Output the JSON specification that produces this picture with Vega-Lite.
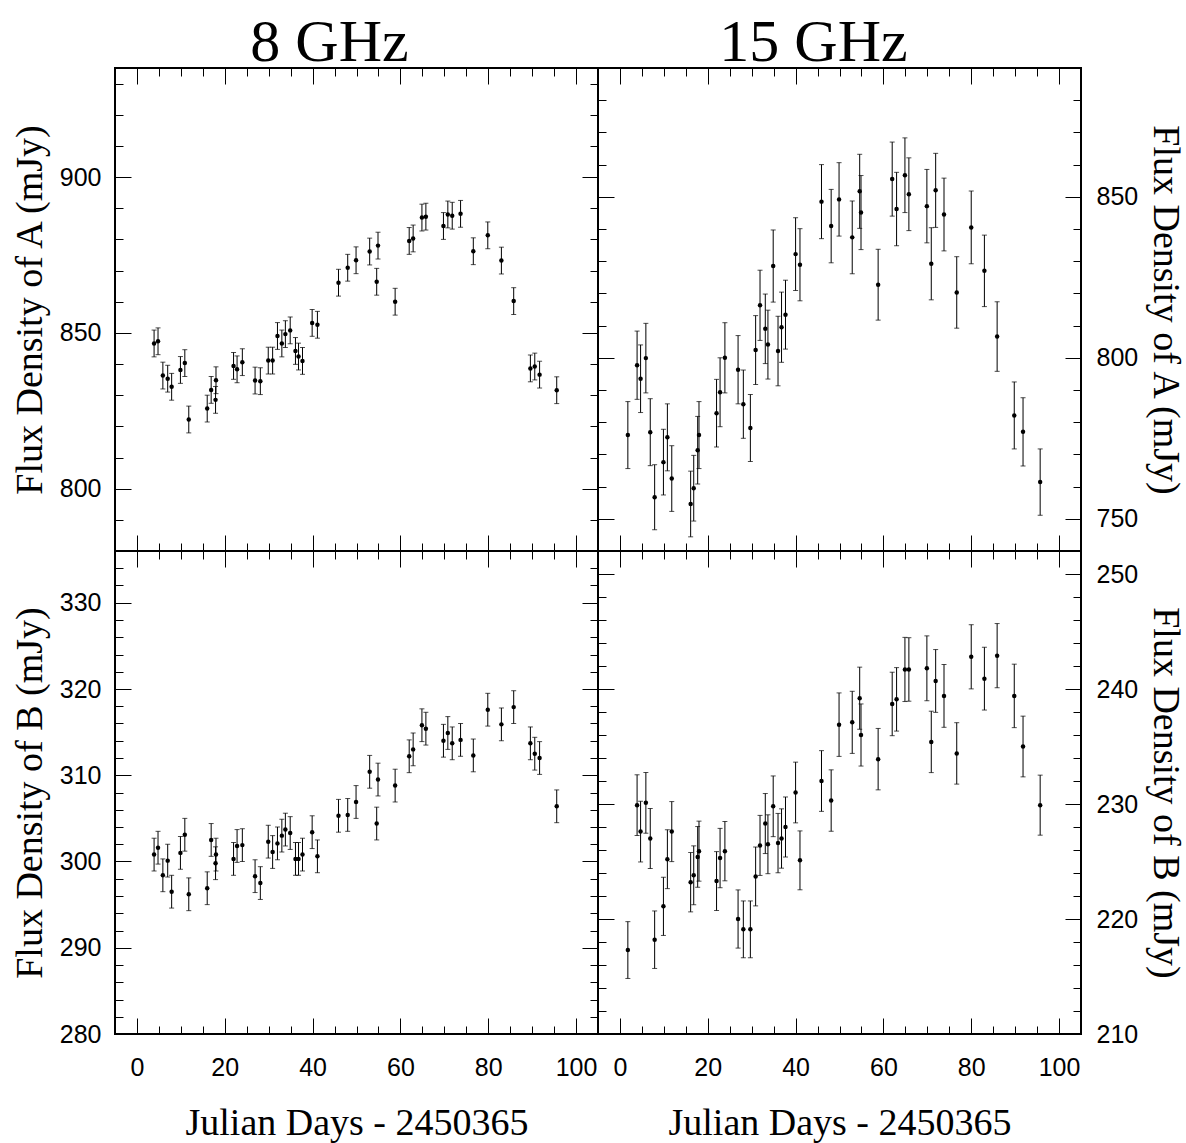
{
  "$schema": "https://vega.github.io/schema/vega-lite/v6.json",
  "background": "white",
  "padding": {"left": 10, "top": 11, "right": 5, "bottom": 0},
  "datasets": {
    "g8": [
      {"d": 3.9, "A": 846.6, "eA": 4.3, "B": 300.8, "eB": 1.9},
      {"d": 4.8, "A": 847.3, "eA": 4.3, "B": 301.6, "eB": 1.9},
      {"d": 5.9, "A": 836.3, "eA": 4.3, "B": 298.4, "eB": 1.9},
      {"d": 7.0, "A": 835.3, "eA": 4.3, "B": 300.1, "eB": 1.9},
      {"d": 7.9, "A": 832.7, "eA": 4.3, "B": 296.5, "eB": 1.9},
      {"d": 9.9, "A": 838.1, "eA": 4.3, "B": 301.0, "eB": 1.9},
      {"d": 10.9, "A": 840.3, "eA": 4.3, "B": 303.1, "eB": 1.9},
      {"d": 11.8, "A": 822.2, "eA": 4.3, "B": 296.2, "eB": 1.9},
      {"d": 16.0, "A": 825.7, "eA": 4.3, "B": 296.9, "eB": 1.9},
      {"d": 16.9, "A": 831.7, "eA": 4.3, "B": 302.5, "eB": 1.9},
      {"d": 17.9, "A": 828.5, "eA": 4.3, "B": 299.8, "eB": 1.9},
      {"d": 18.0, "A": 834.8, "eA": 4.3, "B": 300.8, "eB": 1.9},
      {"d": 22.0, "A": 839.4, "eA": 4.3, "B": 300.3, "eB": 1.9},
      {"d": 22.8, "A": 838.3, "eA": 4.3, "B": 301.8, "eB": 1.9},
      {"d": 24.0, "A": 840.6, "eA": 4.3, "B": 301.9, "eB": 1.9},
      {"d": 26.9, "A": 834.7, "eA": 4.3, "B": 298.3, "eB": 1.9},
      {"d": 28.1, "A": 834.5, "eA": 4.3, "B": 297.5, "eB": 1.9},
      {"d": 29.9, "A": 841.1, "eA": 4.3, "B": 302.3, "eB": 1.9},
      {"d": 30.9, "A": 841.1, "eA": 4.3, "B": 301.1, "eB": 1.9},
      {"d": 32.0, "A": 849.0, "eA": 4.3, "B": 302.1, "eB": 1.9},
      {"d": 33.0, "A": 846.6, "eA": 4.3, "B": 303.0, "eB": 1.9},
      {"d": 33.8, "A": 849.6, "eA": 4.3, "B": 303.7, "eB": 1.9},
      {"d": 34.9, "A": 850.8, "eA": 4.3, "B": 303.3, "eB": 1.9},
      {"d": 36.1, "A": 844.2, "eA": 4.3, "B": 300.3, "eB": 1.9},
      {"d": 36.8, "A": 842.4, "eA": 4.3, "B": 300.3, "eB": 1.9},
      {"d": 37.7, "A": 841.0, "eA": 4.3, "B": 300.8, "eB": 1.9},
      {"d": 39.9, "A": 853.2, "eA": 4.3, "B": 303.4, "eB": 1.9},
      {"d": 41.1, "A": 852.6, "eA": 4.3, "B": 300.6, "eB": 1.9},
      {"d": 45.9, "A": 866.1, "eA": 4.3, "B": 305.3, "eB": 1.9},
      {"d": 48.0, "A": 870.9, "eA": 4.3, "B": 305.4, "eB": 1.9},
      {"d": 49.9, "A": 873.3, "eA": 4.3, "B": 306.9, "eB": 1.9},
      {"d": 53.0, "A": 876.1, "eA": 4.3, "B": 310.4, "eB": 1.9},
      {"d": 54.6, "A": 866.4, "eA": 4.3, "B": 304.4, "eB": 1.9},
      {"d": 54.9, "A": 878.0, "eA": 4.3, "B": 309.5, "eB": 1.9},
      {"d": 58.8, "A": 860.0, "eA": 4.3, "B": 308.8, "eB": 1.9},
      {"d": 62.0, "A": 879.5, "eA": 4.3, "B": 312.2, "eB": 1.9},
      {"d": 62.9, "A": 880.3, "eA": 4.3, "B": 313.0, "eB": 1.9},
      {"d": 64.9, "A": 887.0, "eA": 4.3, "B": 315.8, "eB": 1.9},
      {"d": 65.8, "A": 887.3, "eA": 4.3, "B": 315.4, "eB": 1.9},
      {"d": 69.8, "A": 884.3, "eA": 4.3, "B": 314.0, "eB": 1.9},
      {"d": 70.8, "A": 888.0, "eA": 4.3, "B": 314.9, "eB": 1.9},
      {"d": 71.8, "A": 887.6, "eA": 4.3, "B": 313.7, "eB": 1.9},
      {"d": 73.7, "A": 888.2, "eA": 4.3, "B": 314.1, "eB": 1.9},
      {"d": 76.6, "A": 876.2, "eA": 4.3, "B": 312.3, "eB": 1.9},
      {"d": 79.9, "A": 881.3, "eA": 4.3, "B": 317.6, "eB": 1.9},
      {"d": 83.0, "A": 873.2, "eA": 4.3, "B": 315.9, "eB": 1.9},
      {"d": 85.8, "A": 860.2, "eA": 4.3, "B": 317.9, "eB": 1.9},
      {"d": 89.6, "A": 838.6, "eA": 4.3, "B": 313.7, "eB": 1.9},
      {"d": 90.6, "A": 839.2, "eA": 4.3, "B": 312.5, "eB": 1.9},
      {"d": 91.7, "A": 836.6, "eA": 4.3, "B": 312.0, "eB": 1.9},
      {"d": 95.6, "A": 831.6, "eA": 4.3, "B": 306.4, "eB": 1.9}
    ],
    "g15": [
      {"d": 1.8, "A": 776.0, "eA": 10.4, "B": 217.3, "eB": 2.47},
      {"d": 3.9, "A": 797.7, "eA": 10.6, "B": 229.9, "eB": 2.64},
      {"d": 4.7, "A": 793.5, "eA": 10.5, "B": 227.6, "eB": 2.64},
      {"d": 5.9, "A": 799.9, "eA": 10.8, "B": 230.1, "eB": 2.64},
      {"d": 6.9, "A": 776.9, "eA": 10.4, "B": 227.0, "eB": 2.61},
      {"d": 7.9, "A": 756.7, "eA": 10.1, "B": 218.2, "eB": 2.5},
      {"d": 9.9, "A": 767.6, "eA": 10.2, "B": 221.1, "eB": 2.53},
      {"d": 10.8, "A": 775.3, "eA": 10.4, "B": 225.2, "eB": 2.56},
      {"d": 11.8, "A": 762.5, "eA": 10.2, "B": 227.6, "eB": 2.61},
      {"d": 16.1, "A": 754.6, "eA": 10.2, "B": 223.2, "eB": 2.58},
      {"d": 16.8, "A": 759.5, "eA": 10.2, "B": 223.8, "eB": 2.56},
      {"d": 17.7, "A": 771.3, "eA": 10.5, "B": 225.4, "eB": 2.64},
      {"d": 18.0, "A": 776.0, "eA": 10.4, "B": 225.9, "eB": 2.61},
      {"d": 22.0, "A": 782.8, "eA": 10.5, "B": 223.3, "eB": 2.56},
      {"d": 22.8, "A": 789.3, "eA": 10.7, "B": 225.3, "eB": 2.58},
      {"d": 23.9, "A": 800.0, "eA": 10.9, "B": 225.9, "eB": 2.58},
      {"d": 26.9, "A": 796.3, "eA": 10.6, "B": 220.0, "eB": 2.53},
      {"d": 28.1, "A": 785.6, "eA": 10.6, "B": 219.1, "eB": 2.47},
      {"d": 29.7, "A": 778.2, "eA": 10.4, "B": 219.1, "eB": 2.47},
      {"d": 30.9, "A": 802.4, "eA": 10.7, "B": 223.7, "eB": 2.56},
      {"d": 31.9, "A": 816.3, "eA": 10.9, "B": 226.4, "eB": 2.61},
      {"d": 33.1, "A": 809.0, "eA": 10.8, "B": 228.3, "eB": 2.61},
      {"d": 33.7, "A": 804.1, "eA": 10.7, "B": 226.5, "eB": 2.56},
      {"d": 34.9, "A": 828.5, "eA": 11.2, "B": 229.8, "eB": 2.64},
      {"d": 36.0, "A": 802.1, "eA": 10.8, "B": 226.6, "eB": 2.58},
      {"d": 36.8, "A": 809.5, "eA": 10.9, "B": 227.0, "eB": 2.58},
      {"d": 37.7, "A": 813.4, "eA": 10.7, "B": 228.0, "eB": 2.61},
      {"d": 40.0, "A": 832.2, "eA": 11.3, "B": 231.0, "eB": 2.64},
      {"d": 41.0, "A": 828.9, "eA": 11.2, "B": 225.1, "eB": 2.56},
      {"d": 45.9, "A": 848.5, "eA": 11.5, "B": 232.0, "eB": 2.64},
      {"d": 48.1, "A": 840.9, "eA": 11.4, "B": 230.3, "eB": 2.67},
      {"d": 49.9, "A": 849.2, "eA": 11.4, "B": 236.9, "eB": 2.76},
      {"d": 52.9, "A": 837.4, "eA": 11.3, "B": 237.1, "eB": 2.7},
      {"d": 54.6, "A": 851.7, "eA": 11.5, "B": 239.2, "eB": 2.7},
      {"d": 54.9, "A": 845.1, "eA": 11.5, "B": 236.0, "eB": 2.7},
      {"d": 58.8, "A": 822.7, "eA": 11.0, "B": 233.9, "eB": 2.67},
      {"d": 62.0, "A": 855.5, "eA": 11.5, "B": 238.7, "eB": 2.76},
      {"d": 63.0, "A": 846.2, "eA": 11.4, "B": 239.1, "eB": 2.76},
      {"d": 64.9, "A": 856.7, "eA": 11.6, "B": 241.7, "eB": 2.79},
      {"d": 65.8, "A": 850.8, "eA": 11.3, "B": 241.7, "eB": 2.76},
      {"d": 69.9, "A": 847.1, "eA": 11.4, "B": 241.8, "eB": 2.82},
      {"d": 70.9, "A": 829.2, "eA": 11.2, "B": 235.4, "eB": 2.67},
      {"d": 71.9, "A": 852.0, "eA": 11.5, "B": 240.7, "eB": 2.73},
      {"d": 73.8, "A": 844.5, "eA": 11.3, "B": 239.4, "eB": 2.73},
      {"d": 76.7, "A": 820.3, "eA": 11.1, "B": 234.4, "eB": 2.67},
      {"d": 80.0, "A": 840.5, "eA": 11.3, "B": 242.8, "eB": 2.79},
      {"d": 83.0, "A": 827.0, "eA": 11.1, "B": 240.9, "eB": 2.73},
      {"d": 85.9, "A": 806.6, "eA": 10.8, "B": 242.9, "eB": 2.79},
      {"d": 89.8, "A": 782.1, "eA": 10.4, "B": 239.4, "eB": 2.76},
      {"d": 91.8, "A": 777.0, "eA": 10.6, "B": 235.0, "eB": 2.64},
      {"d": 95.7, "A": 761.4, "eA": 10.3, "B": 229.9, "eB": 2.61}
    ]
  },
  "concat": [
    {
      "width": 483, "height": 483,
      "data": {"name": "g8"},
      "title": {"text": "8 GHz", "font": "Liberation Serif", "fontSize": 60, "fontWeight": "normal", "color": "black", "anchor": "middle", "dx": -27, "offset": -6},
      "layer": [
        {"mark": {"type": "errorbar", "ticks": {"size": 5}, "color": "black", "thickness": 1},
         "encoding": {
           "x": {"field": "d", "type": "quantitative", "scale": {"domain": [-5, 105], "nice": false, "zero": false}, "axis": null},
           "y": {"field": "A", "type": "quantitative", "scale": {"domain": [780, 935], "nice": false, "zero": false}, "axis": null},
           "yError": {"field": "eA"}}},
        {"mark": {"type": "point", "filled": true, "color": "black", "size": 20, "opacity": 1},
         "encoding": {
           "x": {"field": "d", "type": "quantitative", "scale": {"domain": [-5, 105], "nice": false, "zero": false}, "axis": {"orient": "bottom", "values": [0, 20, 40, 60, 80, 100], "tickSize": -16, "labels": false, "title": null}},
           "y": {"field": "A", "type": "quantitative", "scale": {"domain": [780, 935], "nice": false, "zero": false}, "axis": {"orient": "left", "values": [800, 850, 900], "tickSize": -16, "labelPadding": 30, "title": "Flux Density of A (mJy)", "titlePadding": 10}}}},
        {"mark": {"type": "point", "opacity": 0},
         "encoding": {
           "x": {"field": "d", "type": "quantitative", "scale": {"domain": [-5, 105], "nice": false, "zero": false}, "axis": {"orient": "bottom", "values": [5, 10, 15, 25, 30, 35, 45, 50, 55, 65, 70, 75, 85, 90, 95], "tickSize": -8, "labels": false, "title": null}},
           "y": {"field": "A", "type": "quantitative", "scale": {"domain": [780, 935], "nice": false, "zero": false}, "axis": {"orient": "left", "values": [790, 810, 820, 830, 840, 860, 870, 880, 890, 910, 920, 930], "tickSize": -8, "labels": false, "title": null}}}},
        {"mark": {"type": "point", "opacity": 0},
         "encoding": {
           "x": {"field": "d", "type": "quantitative", "scale": {"domain": [-5, 105], "nice": false, "zero": false}, "axis": {"orient": "top", "values": [0, 20, 40, 60, 80, 100], "tickSize": -16, "labels": false, "title": null}},
           "y": {"field": "A", "type": "quantitative", "scale": {"domain": [780, 935], "nice": false, "zero": false}, "axis": {"orient": "right", "values": [800, 850, 900], "tickSize": -16, "labels": false, "title": null}}}},
        {"mark": {"type": "point", "opacity": 0},
         "encoding": {
           "x": {"field": "d", "type": "quantitative", "scale": {"domain": [-5, 105], "nice": false, "zero": false}, "axis": {"orient": "top", "values": [5, 10, 15, 25, 30, 35, 45, 50, 55, 65, 70, 75, 85, 90, 95], "tickSize": -8, "labels": false, "title": null}},
           "y": {"field": "A", "type": "quantitative", "scale": {"domain": [780, 935], "nice": false, "zero": false}, "axis": {"orient": "right", "values": [790, 810, 820, 830, 840, 860, 870, 880, 890, 910, 920, 930], "tickSize": -8, "labels": false, "title": null}}}}
      ],
      "resolve": {"axis": {"x": "independent", "y": "independent"}}
    },
    {
      "width": 483, "height": 483,
      "data": {"name": "g15"},
      "title": {"text": "15 GHz", "font": "Liberation Serif", "fontSize": 60, "fontWeight": "normal", "color": "black", "anchor": "middle", "dx": -26, "offset": -6},
      "layer": [
        {"mark": {"type": "errorbar", "ticks": {"size": 5}, "color": "black", "thickness": 1},
         "encoding": {
           "x": {"field": "d", "type": "quantitative", "scale": {"domain": [-5, 105], "nice": false, "zero": false}, "axis": null},
           "y": {"field": "A", "type": "quantitative", "scale": {"domain": [740, 890], "nice": false, "zero": false}, "axis": null},
           "yError": {"field": "eA"}}},
        {"mark": {"type": "point", "filled": true, "color": "black", "size": 20, "opacity": 1},
         "encoding": {
           "x": {"field": "d", "type": "quantitative", "scale": {"domain": [-5, 105], "nice": false, "zero": false}, "axis": {"orient": "bottom", "values": [0, 20, 40, 60, 80, 100], "tickSize": -16, "labels": false, "title": null}},
           "y": {"field": "A", "type": "quantitative", "scale": {"domain": [740, 890], "nice": false, "zero": false}, "axis": {"orient": "right", "values": [750, 800, 850], "tickSize": -16, "labelPadding": 31, "title": "Flux Density of A (mJy)", "titlePadding": 8}}}},
        {"mark": {"type": "point", "opacity": 0},
         "encoding": {
           "x": {"field": "d", "type": "quantitative", "scale": {"domain": [-5, 105], "nice": false, "zero": false}, "axis": {"orient": "bottom", "values": [5, 10, 15, 25, 30, 35, 45, 50, 55, 65, 70, 75, 85, 90, 95], "tickSize": -8, "labels": false, "title": null}},
           "y": {"field": "A", "type": "quantitative", "scale": {"domain": [740, 890], "nice": false, "zero": false}, "axis": {"orient": "right", "values": [760, 770, 780, 790, 810, 820, 830, 840, 860, 870, 880], "tickSize": -8, "labels": false, "title": null}}}},
        {"mark": {"type": "point", "opacity": 0},
         "encoding": {
           "x": {"field": "d", "type": "quantitative", "scale": {"domain": [-5, 105], "nice": false, "zero": false}, "axis": {"orient": "top", "values": [0, 20, 40, 60, 80, 100], "tickSize": -16, "labels": false, "title": null}},
           "y": {"field": "A", "type": "quantitative", "scale": {"domain": [740, 890], "nice": false, "zero": false}, "axis": {"orient": "left", "values": [750, 800, 850], "tickSize": -16, "labels": false, "title": null}}}},
        {"mark": {"type": "point", "opacity": 0},
         "encoding": {
           "x": {"field": "d", "type": "quantitative", "scale": {"domain": [-5, 105], "nice": false, "zero": false}, "axis": {"orient": "top", "values": [5, 10, 15, 25, 30, 35, 45, 50, 55, 65, 70, 75, 85, 90, 95], "tickSize": -8, "labels": false, "title": null}},
           "y": {"field": "A", "type": "quantitative", "scale": {"domain": [740, 890], "nice": false, "zero": false}, "axis": {"orient": "left", "values": [760, 770, 780, 790, 810, 820, 830, 840, 860, 870, 880], "tickSize": -8, "labels": false, "title": null}}}}
      ],
      "resolve": {"axis": {"x": "independent", "y": "independent"}}
    },
    {
      "width": 483, "height": 483,
      "data": {"name": "g8"},
      "layer": [
        {"mark": {"type": "errorbar", "ticks": {"size": 5}, "color": "black", "thickness": 1},
         "encoding": {
           "x": {"field": "d", "type": "quantitative", "scale": {"domain": [-5, 105], "nice": false, "zero": false}, "axis": null},
           "y": {"field": "B", "type": "quantitative", "scale": {"domain": [280, 336], "nice": false, "zero": false}, "axis": null},
           "yError": {"field": "eB"}}},
        {"mark": {"type": "point", "filled": true, "color": "black", "size": 20, "opacity": 1},
         "encoding": {
           "x": {"field": "d", "type": "quantitative", "scale": {"domain": [-5, 105], "nice": false, "zero": false}, "axis": {"orient": "bottom", "values": [0, 20, 40, 60, 80, 100], "tickSize": -16, "labelPadding": 37, "title": "Julian Days - 2450365", "titlePadding": 24}},
           "y": {"field": "B", "type": "quantitative", "scale": {"domain": [280, 336], "nice": false, "zero": false}, "axis": {"orient": "left", "values": [280, 290, 300, 310, 320, 330], "tickSize": -16, "labelPadding": 30, "title": "Flux Density of B (mJy)", "titlePadding": 10}}}},
        {"mark": {"type": "point", "opacity": 0},
         "encoding": {
           "x": {"field": "d", "type": "quantitative", "scale": {"domain": [-5, 105], "nice": false, "zero": false}, "axis": {"orient": "bottom", "values": [5, 10, 15, 25, 30, 35, 45, 50, 55, 65, 70, 75, 85, 90, 95], "tickSize": -8, "labels": false, "title": null}},
           "y": {"field": "B", "type": "quantitative", "scale": {"domain": [280, 336], "nice": false, "zero": false}, "axis": {"orient": "left", "values": [282, 284, 286, 288, 292, 294, 296, 298, 302, 304, 306, 308, 312, 314, 316, 318, 322, 324, 326, 328, 332, 334], "tickSize": -8, "labels": false, "title": null}}}},
        {"mark": {"type": "point", "opacity": 0},
         "encoding": {
           "x": {"field": "d", "type": "quantitative", "scale": {"domain": [-5, 105], "nice": false, "zero": false}, "axis": {"orient": "top", "values": [0, 20, 40, 60, 80, 100], "tickSize": -16, "labels": false, "title": null}},
           "y": {"field": "B", "type": "quantitative", "scale": {"domain": [280, 336], "nice": false, "zero": false}, "axis": {"orient": "right", "values": [290, 300, 310, 320, 330], "tickSize": -16, "labels": false, "title": null}}}},
        {"mark": {"type": "point", "opacity": 0},
         "encoding": {
           "x": {"field": "d", "type": "quantitative", "scale": {"domain": [-5, 105], "nice": false, "zero": false}, "axis": {"orient": "top", "values": [5, 10, 15, 25, 30, 35, 45, 50, 55, 65, 70, 75, 85, 90, 95], "tickSize": -8, "labels": false, "title": null}},
           "y": {"field": "B", "type": "quantitative", "scale": {"domain": [280, 336], "nice": false, "zero": false}, "axis": {"orient": "right", "values": [282, 284, 286, 288, 292, 294, 296, 298, 302, 304, 306, 308, 312, 314, 316, 318, 322, 324, 326, 328, 332, 334], "tickSize": -8, "labels": false, "title": null}}}}
      ],
      "resolve": {"axis": {"x": "independent", "y": "independent"}}
    },
    {
      "width": 483, "height": 483,
      "data": {"name": "g15"},
      "layer": [
        {"mark": {"type": "errorbar", "ticks": {"size": 5}, "color": "black", "thickness": 1},
         "encoding": {
           "x": {"field": "d", "type": "quantitative", "scale": {"domain": [-5, 105], "nice": false, "zero": false}, "axis": null},
           "y": {"field": "B", "type": "quantitative", "scale": {"domain": [210, 252], "nice": false, "zero": false}, "axis": null},
           "yError": {"field": "eB"}}},
        {"mark": {"type": "point", "filled": true, "color": "black", "size": 20, "opacity": 1},
         "encoding": {
           "x": {"field": "d", "type": "quantitative", "scale": {"domain": [-5, 105], "nice": false, "zero": false}, "axis": {"orient": "bottom", "values": [0, 20, 40, 60, 80, 100], "tickSize": -16, "labelPadding": 37, "title": "Julian Days - 2450365", "titlePadding": 24}},
           "y": {"field": "B", "type": "quantitative", "scale": {"domain": [210, 252], "nice": false, "zero": false}, "axis": {"orient": "right", "values": [210, 220, 230, 240, 250], "tickSize": -16, "labelPadding": 31, "title": "Flux Density of B (mJy)", "titlePadding": 8}}}},
        {"mark": {"type": "point", "opacity": 0},
         "encoding": {
           "x": {"field": "d", "type": "quantitative", "scale": {"domain": [-5, 105], "nice": false, "zero": false}, "axis": {"orient": "bottom", "values": [5, 10, 15, 25, 30, 35, 45, 50, 55, 65, 70, 75, 85, 90, 95], "tickSize": -8, "labels": false, "title": null}},
           "y": {"field": "B", "type": "quantitative", "scale": {"domain": [210, 252], "nice": false, "zero": false}, "axis": {"orient": "right", "values": [212, 214, 216, 218, 222, 224, 226, 228, 232, 234, 236, 238, 242, 244, 246, 248], "tickSize": -8, "labels": false, "title": null}}}},
        {"mark": {"type": "point", "opacity": 0},
         "encoding": {
           "x": {"field": "d", "type": "quantitative", "scale": {"domain": [-5, 105], "nice": false, "zero": false}, "axis": {"orient": "top", "values": [0, 20, 40, 60, 80, 100], "tickSize": -16, "labels": false, "title": null}},
           "y": {"field": "B", "type": "quantitative", "scale": {"domain": [210, 252], "nice": false, "zero": false}, "axis": {"orient": "left", "values": [220, 230, 240, 250], "tickSize": -16, "labels": false, "title": null}}}},
        {"mark": {"type": "point", "opacity": 0},
         "encoding": {
           "x": {"field": "d", "type": "quantitative", "scale": {"domain": [-5, 105], "nice": false, "zero": false}, "axis": {"orient": "top", "values": [5, 10, 15, 25, 30, 35, 45, 50, 55, 65, 70, 75, 85, 90, 95], "tickSize": -8, "labels": false, "title": null}},
           "y": {"field": "B", "type": "quantitative", "scale": {"domain": [210, 252], "nice": false, "zero": false}, "axis": {"orient": "left", "values": [212, 214, 216, 218, 222, 224, 226, 228, 232, 234, 236, 238, 242, 244, 246, 248], "tickSize": -8, "labels": false, "title": null}}}}
      ],
      "resolve": {"axis": {"x": "independent", "y": "independent"}}
    }
  ],
  "columns": 2,
  "spacing": 0,
  "bounds": "flush",
  "config": {
    "view": {"stroke": "black", "strokeWidth": 2},
    "axis": {"domain": false, "grid": false, "tickColor": "black", "tickWidth": 1, "labelFont": "Liberation Sans", "labelFontSize": 25, "labelColor": "black", "titleFont": "Liberation Serif", "titleFontSize": 38, "titleFontWeight": "normal", "titleColor": "black", "labelFlush": false, "labelOverlap": false, "labelBound": false}
  }
}
